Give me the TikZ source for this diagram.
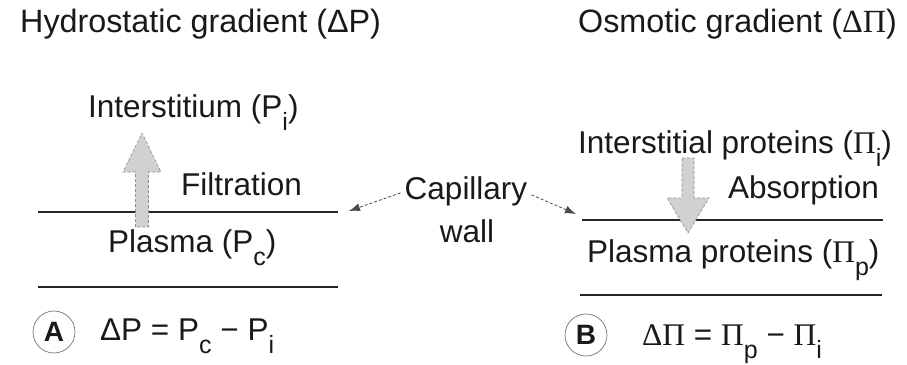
\documentclass[tikz,border=0pt]{standalone}
\usepackage{fontspec}
\setmainfont{Liberation Sans}
\newfontfamily\serf{Liberation Serif}
\usetikzlibrary{arrows.meta}
\newcommand\sbs[1]{\raisebox{-0.42em}{\fontsize{25}{25}\selectfont #1}}
\newcommand\PI{{\serf\char"03A0}}
\newcommand\DL{{\serf\char"0394}}
\begin{document}
\begin{tikzpicture}[x=1pt,y=-1pt,
  txt/.style={font=\fontsize{31.5}{36}\selectfont, text=black!90, inner sep=0pt, anchor=base west},
  ttl/.style={txt, font=\fontsize{32.3}{36}\selectfont},
  wallline/.style={line width=2.2pt, draw=black!85},
  flowarrow/.style={fill=black!18, draw=black!45, densely dashed, line width=0.6pt},
  callout/.style={densely dashed, line width=0.8pt, draw=black!70, -{Latex[length=11pt,width=8pt]}},
  tag/.style={circle, draw=black!55, line width=0.7pt, minimum size=42pt, inner sep=0pt,
    font=\fontsize{28}{30}\selectfont\bfseries, text=black!90}]
\useasboundingbox (0,0) rectangle (907,364);
% titles
\node[ttl] (tl) at (20,32) {Hydrostatic gradient (\char"0394P)};
\node[ttl] (tr) at (578,32) {Osmotic gradient (\DL\PI)};
% left panel
\node[txt] (inter) at (88,117) {Interstitium (P\sbs{i})};
\node[txt] (filt) at (181,195) {Filtration};
\node[txt] (plas) at (108,252) {Plasma (P\sbs{c})};
\coordinate (lta) at (38,212); \coordinate (ltb) at (338,212);
\coordinate (lba) at (38,287); \coordinate (lbb) at (338,287);
\draw[wallline] (lta) -- (ltb);
\draw[wallline] (lba) -- (lbb);
\draw[flowarrow] (135.5,227) -- (135.5,172) -- (123,172) -- (142,133) -- (161,172) -- (148.5,172) -- (148.5,227) -- cycle;
\node[tag] (ta) at (54,332) {A};
\node[txt] (fa) at (100,340) {\char"0394P = P\sbs{c} \char"2212\ P\sbs{i}};
% centre
\node[txt, anchor=base] (cap) at (466,199) {Capillary};
\node[txt, anchor=base] (wall) at (467,242) {wall};
\coordinate (tipl) at (349,211);
\coordinate (tipr) at (576,214);
\draw[callout] ([xshift=-4pt,yshift=-2pt]cap.west) -- (tipl);
\draw[callout] ([xshift=4pt,yshift=-4pt]cap.east) -- (tipr);
% right panel
\node[txt] (iprot) at (578,153) {Interstitial proteins (\PI\sbs{i})};
\node[txt] (abs) at (728,198) {Absorption};
\node[txt] (pprot) at (587,262) {Plasma proteins (\PI\sbs{p})};
\coordinate (rta) at (582,220); \coordinate (rtb) at (883,220);
\coordinate (rba) at (580,295); \coordinate (rbb) at (882,295);
\draw[wallline] (rta) -- (rtb);
\draw[wallline] (rba) -- (rbb);
\draw[flowarrow] (682,158) -- (694,158) -- (694,198) -- (709,198) -- (688,233) -- (667,198) -- (682,198) -- cycle;
\node[tag] (tb) at (586,335) {B};
\node[txt] (fb) at (642,345) {\DL\PI\ = \PI\sbs{p} \char"2212\ \PI\sbs{i}};
\end{tikzpicture}
\end{document}
